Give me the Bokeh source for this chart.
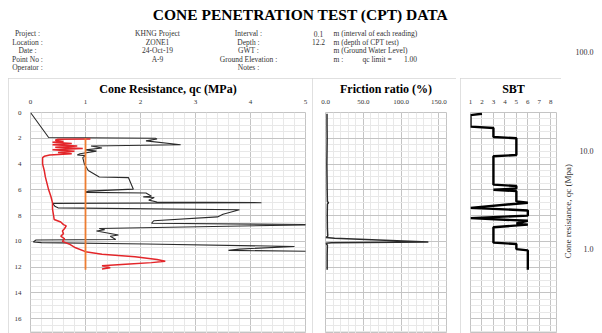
from bokeh.plotting import figure
from bokeh.layouts import row, column
from bokeh.models import Range1d, SingleIntervalTicker, FixedTicker, PrintfTickFormatter
from bokeh.embed import file_html
from bokeh.resources import INLINE
from bokeh.core.properties import value

# ---------------- data ----------------
title_text = "CONE PENETRATION TEST (CPT) DATA"
header_labels_1 = ["Project :", "Location :", "Date :", "Point No :", "Operator :"]
header_values_1 = ["KHNG Project", "ZONE1", "24-Oct-19", "A-9", ""]
header_labels_2 = ["Interval :", "Depth :", "GWT :", "Ground Elevation :", "Notes :"]
header_values_2 = ["0.1", "12.2", "", "", ""]
header_units = ["m (interval of each reading)", "m (depth of CPT test)", "m (Ground Water Level)", "m :", ""]
qc_limit_label = "qc limit ="
qc_limit = 1.00

# cone resistance qc (MPa) vs depth (m)
qc_depth = [0.0, 1.94, 2.0, 2.05, 2.2, 2.5, 2.6, 2.75, 2.9, 3.0, 3.2, 3.3, 3.35, 3.5, 4.0, 4.5,
            5.0, 5.05, 5.95, 6.1, 6.2, 6.25, 6.5, 6.55, 6.6, 6.8, 6.95, 7.0, 7.05, 7.3, 7.4, 7.55,
            7.9, 8.1, 8.4, 8.6, 8.7, 9.0, 9.1, 9.2, 9.5, 9.6, 9.85, 9.9, 10.05, 10.1, 10.2, 10.4,
            10.6, 10.7, 10.78]
qc_value = [0.0, 0.33, 2.27, 2.3, 2.1, 2.73, 1.1, 1.3, 1.0, 1.2, 0.9, 0.85, 1.0, 0.95, 0.98, 1.05,
            1.25, 1.78, 1.87, 1.05, 1.0, 2.1, 2.2, 2.05, 2.25, 2.15, 2.3, 4.2, 0.4, 0.45, 0.5, 3.8,
            3.5, 3.4, 2.24, 2.2, 5.3, 1.25, 1.35, 1.2, 1.6, 1.45, 1.55, 0.1, 0.05, 0.2, 2.1, 4.8,
            3.8, 3.6, 5.3]

# averaged qc (red)
avg_depth = [2.05, 2.07, 2.15, 2.25, 2.3, 2.4, 2.5, 2.6, 2.7, 2.8, 2.9, 3.0, 3.1, 3.2, 3.3, 3.4,
             3.5, 4.0, 4.5, 5.0, 5.5, 6.0, 6.5, 7.0, 7.5, 8.0, 8.3, 8.5, 8.7, 8.8, 9.0, 9.2, 9.4,
             9.6, 9.8, 10.0, 10.2, 10.5, 10.8, 11.0, 11.2, 11.4, 11.55, 11.65, 11.75, 11.9, 12.05,
             12.15]
avg_value = [1.09, 0.5, 0.45, 0.6, 0.4, 0.75, 0.4, 0.85, 0.45, 0.95, 0.4, 0.8, 0.5, 0.75, 0.35, 0.25,
             0.22, 0.22, 0.25, 0.27, 0.3, 0.33, 0.37, 0.4, 0.4, 0.42, 0.43, 0.55, 0.6, 0.65, 0.62,
             0.58, 0.6, 0.55, 0.62, 0.58, 0.7, 0.82, 1.0, 1.3, 1.9, 2.3, 2.45, 2.2, 1.8, 1.3, 1.45,
             1.3]

limit_depth = [2.0, 12.2]

# friction ratio (%)
fr_depth = [0.1, 1.0, 2.0, 3.0, 4.0, 5.0, 6.0, 6.9, 7.0, 7.1, 8.0, 9.0, 9.6, 9.7, 9.75, 10.05,
            10.1, 10.15, 10.3, 11.0, 12.2]
fr_value = [2.0, 2.0, 2.2, 2.0, 1.8, 2.0, 2.2, 2.5, 4.0, 2.5, 2.3, 2.5, 3.0, 0.5, 12.0, 136.0,
            8.0, 0.5, 2.5, 2.2, 2.2]

# soil behaviour type
sbt_depth = [0.1, 0.2, 1.1, 1.2, 1.9, 2.0, 3.3, 3.4, 5.6, 5.7, 5.9, 6.0, 6.1, 6.9, 7.0, 7.4, 7.6,
             8.0, 8.2, 8.4, 8.6, 8.7, 8.9, 10.1, 10.2, 10.6, 10.7, 12.2]
sbt_value = [2, 1, 1, 3, 3, 5, 5, 3, 3, 5, 5, 3, 5, 5, 6, 1, 6, 6, 1, 6, 5, 6, 3, 3, 5, 5, 6, 6]

qc_ticks = [0, 1, 2, 3, 4, 5]
fr_ticks = [0, 50, 100, 150]
sbt_ticks = [1, 2, 3, 4, 5, 6, 7, 8]
right_ticks = [1, 10, 100]
right_label = "Cone resistance, qc (Mpa)"

# ---------------- style ----------------
SERIF = "'Liberation Serif', 'Times New Roman', 'DejaVu Serif', serif"
MAJ = "#c4c4c4"
MIN = "#e8e8e8"
TXT = "#333333"
BORDER = {"outline": "1px solid #d6d6d6", "outline-offset": "-1px"}
DEPTH_MAX = 17.15

# ---------------- header ----------------
hdr = figure(width=561, height=78, x_range=Range1d(0, 561), y_range=Range1d(78, 0),
             toolbar_location=None, output_backend="svg", min_border=0,
             x_axis_location=None, y_axis_location=None)
hdr.outline_line_color = None
hdr.grid.visible = False

hdr.text(x=[300], y=[14], text=[title_text], text_font=value(SERIF), text_font_size="15.5px",
         text_font_style="bold", text_align="center", text_baseline="middle", text_color="black")
rows_y = [33, 41.5, 50, 58.5, 67]
common = dict(text_font=value(SERIF), text_font_size="7.5px", text_baseline="middle", text_color=TXT)
hdr.text(x=[27] * 5, y=rows_y, text=header_labels_1, text_align="center", **common)
hdr.text(x=[157] * 5, y=rows_y, text=header_values_1, text_align="center", **common)
hdr.text(x=[248] * 5, y=rows_y, text=header_labels_2, text_align="center", **common)
hdr.text(x=[318] * 5, y=rows_y, text=header_values_2, text_align="center", **common)
hdr.text(x=[333] * 5, y=rows_y, text=header_units, text_align="left", **common)
hdr.text(x=[362], y=[rows_y[3]], text=[qc_limit_label], text_align="left", **common)
hdr.text(x=[410], y=[rows_y[3]], text=["%.2f" % qc_limit], text_align="center", **common)


def style_panel(p, title):
    p.title.text = title
    p.title.align = "center"
    p.title.text_font = SERIF
    p.title.text_font_size = "12px"
    p.title.text_font_style = "bold"
    p.title.text_color = "black"
    p.title.standoff = 2
    p.outline_line_color = MAJ
    p.background_fill_color = "white"
    p.border_fill_color = "white"
    for ax in p.xaxis + p.yaxis:
        ax.axis_line_color = None
        ax.major_tick_line_color = None
        ax.minor_tick_line_color = None
        ax.major_label_text_font = SERIF
        ax.major_label_text_font_size = "7px"
        ax.major_label_text_color = TXT
        ax.major_label_standoff = 3
    for g in p.grid:
        g.grid_line_color = MAJ
        g.minor_grid_line_color = MIN


depth_ticker = SingleIntervalTicker(interval=2, num_minor_ticks=4)
yr = Range1d(DEPTH_MAX, 0)

# ---------------- cone resistance ----------------
p1 = figure(width=304, height=255, x_range=Range1d(0, 5), y_range=yr,
            x_axis_location="above", y_axis_location="left", toolbar_location=None,
            output_backend="svg", min_border_left=22, min_border_right=7,
            min_border_top=32, min_border_bottom=0, title=" ",
            margin=(0, 0, 0, 8), styles=BORDER)
p1.xaxis.ticker = FixedTicker(ticks=qc_ticks, minor_ticks=[i / 5 for i in range(26)])
p1.yaxis.ticker = depth_ticker
p1.xgrid.ticker = p1.xaxis[0].ticker
p1.ygrid.ticker = depth_ticker
style_panel(p1, "Cone Resistance, qc (MPa)")
p1.line(qc_value, qc_depth, line_color="#2b2b2b", line_width=1.1)
p1.line(avg_value, avg_depth, line_color="#e3262a", line_width=1.5)
p1.line([qc_limit, qc_limit], limit_depth, line_color="#ed7d31", line_width=1.8)

# ---------------- friction ratio ----------------
p2 = figure(width=144, height=255, x_range=Range1d(0, 160), y_range=yr,
            x_axis_location="above", y_axis_location=None, toolbar_location=None,
            output_backend="svg", min_border_left=13, min_border_right=10,
            min_border_top=32, min_border_bottom=0, title=" ", styles=BORDER)
p2.xaxis.ticker = FixedTicker(ticks=fr_ticks, minor_ticks=list(range(0, 161, 10)))
p2.xaxis.formatter = PrintfTickFormatter(format="%.1f")
p2.xgrid.ticker = p2.xaxis[0].ticker
p2.ygrid.ticker = depth_ticker
style_panel(p2, "Friction ratio (%)")
p2.line(fr_value, fr_depth, line_color="#2b2b2b", line_width=1.5)

# ---------------- SBT ----------------
p3 = figure(width=101, height=255, x_range=Range1d(1, 8.5), y_range=yr,
            x_axis_location="above", y_axis_location=None, toolbar_location=None,
            output_backend="svg", min_border_left=10, min_border_right=5,
            min_border_top=32, min_border_bottom=0, title=" ",
            margin=(0, 0, 0, 4), styles=BORDER)
p3.xaxis.ticker = FixedTicker(ticks=sbt_ticks, minor_ticks=[])
p3.xgrid.ticker = p3.xaxis[0].ticker
p3.ygrid.ticker = depth_ticker
style_panel(p3, "SBT")
p3.line(sbt_value, sbt_depth, line_color="black", line_width=2.4)

# ---------------- cut-off log chart on the right ----------------
p4 = figure(width=41, height=333, y_axis_type="log", y_range=Range1d(0.136, 339),
            x_range=Range1d(0, 1), x_axis_location=None, y_axis_location="left",
            toolbar_location=None, output_backend="svg", min_border_left=39,
            min_border_right=0, min_border_top=0, min_border_bottom=0,
            title=right_label, title_location="left")
p4.outline_line_color = None
p4.grid.visible = False
p4.title.align = "left"
p4.title.offset = 75
p4.title.standoff = 0
p4.title.text_font = SERIF
p4.title.text_font_size = "9px"
p4.title.text_font_style = "normal"
p4.title.text_color = TXT
p4.yaxis.ticker = FixedTicker(ticks=right_ticks, minor_ticks=[])
p4.yaxis.formatter = PrintfTickFormatter(format="%.1f")
p4.yaxis.axis_line_color = None
p4.yaxis.major_tick_line_color = None
p4.yaxis.minor_tick_line_color = None
p4.yaxis.major_label_text_font = SERIF
p4.yaxis.major_label_text_font_size = "8px"
p4.yaxis.major_label_text_color = TXT
p4.yaxis.major_label_standoff = 3

layout = row(column(hdr, row(p1, p2, p3)), p4)
open("out.html", "w").write(file_html(layout, INLINE))
